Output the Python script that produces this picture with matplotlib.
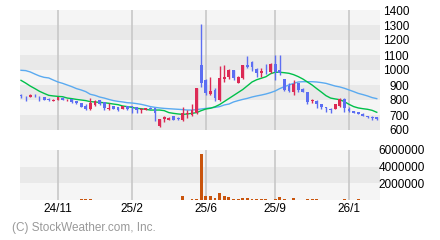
import matplotlib.pyplot as plt
from matplotlib.patches import Rectangle

plt.rcParams['font.family'] = ['Liberation Sans', 'DejaVu Sans']

# weekly candles (oldest -> newest)
opens = [831, 828, 822, 830, 828, 818, 808, 796, 800, 815,
         798, 804, 793, 780, 760, 742, 767, 798, 784, 740,
         760, 751, 742, 758, 758, 751, 733, 733, 749, 744,
         629, 673, 667, 691, 678, 667, 708, 700, 711, 1033,
         933, 840, 867, 800, 942, 951, 998, 916, 944, 1033,
         1051, 1004, 982, 995, 989, 1040, 1000, 938, 896, 856,
         911, 876, 851, 793, 796, 771, 751, 742, 742, 762,
         809, 738, 724, 718, 709, 693, 689, 684]
highs = [840, 830, 840, 840, 830, 820, 812, 810, 820, 818,
         804, 808, 795, 782, 771, 811, 800, 802, 786, 778,
         762, 753, 760, 760, 760, 753, 749, 746, 751, 746,
         676, 691, 684, 693, 684, 751, 733, 773, 880, 1307,
         938, 951, 878, 1027, 1031, 1004, 1000, 960, 1035, 1093,
         1062, 1011, 1016, 1040, 1044, 1100, 1100, 940, 911, 933,
         915, 878, 853, 809, 798, 773, 753, 744, 775, 811,
         811, 751, 727, 720, 711, 695, 691, 686]
lows = [816, 791, 818, 818, 791, 798, 793, 791, 798, 798,
        796, 782, 775, 751, 733, 733, 762, 767, 733, 733,
        740, 729, 740, 736, 711, 711, 711, 731, 738, 658,
        622, 653, 665, 665, 667, 662, 678, 696, 709, 889,
        833, 833, 796, 793, 922, 942, 933, 911, 940, 1011,
        996, 951, 951, 973, 982, 933, 967, 860, 856, 833,
        856, 854, 771, 780, 744, 742, 722, 711, 740, 756,
        718, 718, 714, 705, 693, 678, 667, 667]
closes = [827, 826, 833, 828, 826, 802, 798, 802, 818, 800,
          802, 786, 778, 756, 742, 780, 796, 773, 749, 749,
          742, 733, 758, 742, 753, 733, 738, 744, 740, 711,
          673, 684, 682, 667, 673, 711, 713, 733, 878, 916,
          844, 860, 811, 947, 953, 998, 944, 951, 1033, 1022,
          1022, 978, 993, 991, 1040, 984, 982, 867, 862, 909,
          867, 856, 784, 798, 773, 756, 744, 733, 773, 807,
          744, 727, 716, 707, 696, 684, 678, 676]

# moving averages
ma_short = [931, 913, 893, 876, 858, 844, 831, 827, 824, 822,
            813, 809, 804, 800, 796, 789, 787, 784, 782, 778,
            773, 769, 760, 756, 751, 744, 742, 738, 733, 733,
            733, 729, 716, 711, 707, 704, 707, 711, 716, 729,
            740, 745, 755, 770, 790, 810, 830, 850, 870, 895,
            920, 935, 945, 955, 975, 985, 985, 982, 978, 969,
            956, 940, 920, 900, 876, 853, 829, 813, 807, 802,
            789, 771, 756, 747, 742, 738, 731, 718]
ma_long = [998, 996, 987, 973, 960, 951, 947, 933, 920, 911,
           900, 889, 876, 867, 856, 838, 831, 820, 813, 804,
           796, 791, 787, 782, 780, 776, 771, 764, 756, 751,
           747, 744, 742, 740, 738, 736, 733, 733, 736, 740,
           744, 747, 751, 756, 767, 773, 787, 796, 804, 811,
           820, 827, 833, 840, 849, 860, 876, 889, 900, 911,
           920, 922, 922, 922, 920, 916, 911, 902, 893, 887,
           878, 867, 856, 844, 836, 827, 816, 809]

# volume in thousands of shares
volume = [0, 0, 0, 0, 0, 0, 0, 0, 0, 0,
          0, 0, 0, 120, 120, 120, 0, 0, 0, 0,
          0, 0, 0, 0, 0, 0, 0, 0, 0, 0,
          0, 0, 0, 0, 0, 480, 0, 110, 110, 5520,
          480, 480, 240, 840, 480, 360, 120, 120, 240, 240,
          120, 120, 120, 120, 0, 120, 360, 120, 0, 240,
          0, 0, 120, 120, 120, 0, 0, 0, 0, 0,
          120, 0, 0, 120, 0, 0, 0, 0]

tick_pos = [8, 24, 40, 55, 71]
tick_labels = ['24/11', '25/2', '25/6', '25/9', '26/1']

UP = '#dc2a55'
DOWN = '#5c6ef2'
LIGHT = '#f5f5f5'
DARK = '#e9e9e9'
GRID = '#c8c8c8'

fig = plt.figure(figsize=(4.4, 2.4), dpi=100)
ax = fig.add_axes([20 / 440, 110 / 240, 360 / 440, 120 / 240])
axv = fig.add_axes([20 / 440, 40 / 240, 360 / 440, 50 / 240], sharex=ax)

xmin, xmax = -0.22, 77.7

# price panel
ax.set_facecolor(LIGHT)
for lo in [600, 800, 1000, 1200]:
    ax.axhspan(lo, lo + 100, color=DARK, lw=0, zorder=0)
for t in tick_pos:
    ax.axvline(t, color=GRID, lw=1.2, zorder=1)

n = len(opens)
xs = list(range(n))
ax.plot(xs, ma_long, color='#5aaaf0', lw=1.0, zorder=2)
ax.plot(xs, ma_short, color='#00c04a', lw=1.0, zorder=2)

w = 0.62
for i in range(n):
    o, h, l, c = opens[i], highs[i], lows[i], closes[i]
    col = UP if c >= o else DOWN
    ax.vlines(i, l, h, color=col, lw=1.0, zorder=3)
    bottom = min(o, c)
    height = max(abs(c - o), 2)
    ax.add_patch(Rectangle((i - w / 2, bottom), w, height, facecolor=col,
                           edgecolor='none', zorder=4))

ax.set_xlim(xmin, xmax)
ax.set_ylim(600, 1400)
ax.set_yticks(range(600, 1401, 100))
ax.yaxis.tick_right()
ax.tick_params(axis='y', length=0, pad=21, labelsize=8.5)
for lab in ax.get_yticklabels():
    lab.set_horizontalalignment('right')
ax.tick_params(axis='x', length=0, labelbottom=False)
for s in ax.spines.values():
    s.set_visible(False)

# volume panel
axv.set_facecolor(LIGHT)
axv.axhspan(2000, 4000, color=DARK, lw=0, zorder=0)
for t in tick_pos:
    axv.axvline(t, color=GRID, lw=1.2, zorder=1)
axv.bar(xs, volume, width=0.62, color='#c9540c', zorder=3)
axv.set_ylim(0, 6000)
axv.set_yticks([2000, 4000, 6000])
axv.set_yticklabels(['2000000', '4000000', '6000000'])
axv.yaxis.tick_right()
axv.tick_params(axis='y', length=0, pad=32.5, labelsize=8.5)
for lab in axv.get_yticklabels():
    lab.set_horizontalalignment('right')
axv.set_xticks(tick_pos)
axv.set_xticklabels(tick_labels)
axv.tick_params(axis='x', length=0, pad=2, labelsize=8.5)
for s in axv.spines.values():
    s.set_visible(False)
axv.set_xlim(xmin, xmax)

fig.text(12 / 440, 1 - 227.5 / 240, '(C) StockWeather.com, Inc.', color='#999999',
         fontsize=8.5, va='center', ha='left')

fig.savefig('out.png', dpi=100)
